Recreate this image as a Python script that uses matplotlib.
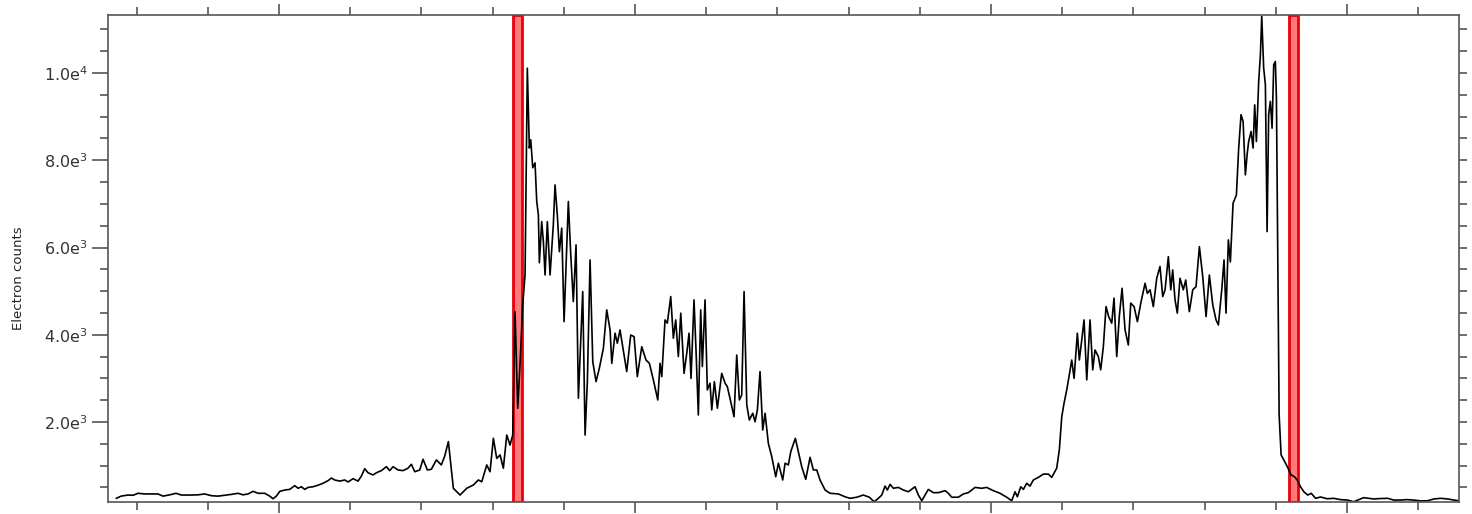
import numpy as np
import matplotlib
matplotlib.use('Agg')
import matplotlib.pyplot as plt
from matplotlib.ticker import MultipleLocator, FuncFormatter


#
# line profile: position along the scan and electron counts
x_pos = [
    27.17, 27.83, 28.81, 29.51, 30.21, 31.15, 32.04, 33.02, 33.72, 34.67,
    35.55, 36.30, 37.70, 38.64, 39.58, 40.51, 41.45, 42.39, 43.32, 44.26,
    44.96, 45.66, 46.37, 47.07, 48.01, 48.71, 49.17, 49.64, 50.12, 50.82,
    51.52, 52.22, 52.69, 53.15, 53.63, 54.09, 54.79, 55.49, 56.20, 56.90,
    57.36, 57.84, 58.54, 59.25, 59.71, 60.41, 61.11, 61.58, 62.05, 62.52,
    63.22, 63.68, 64.39, 65.09, 65.56, 66.03, 66.73, 67.43, 68.13, 68.60,
    69.08, 69.78, 70.24, 70.85, 71.41, 72.11, 72.81, 73.29, 73.80,
    74.50, 75.44, 76.38, 77.31, 78.01, 78.49, 79.19, 79.65, 80.12, 80.59,
    81.06, 81.52, 82.00, 82.46, 82.84, 83.16, 83.54, 83.86, 84.24, 84.57,
    84.89, 85.17, 85.37, 85.65, 85.97, 86.21, 86.44, 86.58, 86.91, 87.14,
    87.38, 87.70, 88.08, 88.54, 88.78, 89.10, 89.39, 89.72, 90.05, 90.65,
    90.99, 91.35, 91.73, 92.06, 92.67, 93.00, 93.32, 93.70, 94.08, 94.54,
    95.00, 95.57, 96.04,
    96.51, 96.75, 97.21, 97.53, 97.91, 98.29, 98.85, 99.41, 99.88, 100.34,
    100.96, 101.56, 102.03, 102.59, 103.21, 103.53, 103.77, 104.23, 104.55, 105.03,
    105.40, 105.73, 106.10, 106.44, 106.90, 107.28, 107.60, 107.88, 108.30, 108.58,
    108.91, 109.24, 109.47, 109.85, 110.17, 110.55, 110.79, 111.16, 111.58, 112.19,
    112.66, 112.98, 113.46, 113.92, 114.30, 114.67, 115.00, 115.33, 115.71, 116.07,
    116.55, 116.87, 117.20, 117.57, 117.95, 118.28, 118.74, 119.22, 119.78, 120.15,
    120.76, 121.09, 121.55, 121.89, 122.53, 122.95, 123.43, 123.99, 124.60, 125.06,
    125.54, 126.00, 126.71, 127.41, 128.57, 129.51, 130.21, 131.16, 132.08, 132.93,
    133.59, 134.19, 134.67, 135.13, 135.46, 135.83, 136.30, 137.00, 137.70, 138.40,
    139.34, 139.81, 140.29, 140.75, 141.21, 141.91, 142.62, 143.56, 144.02, 144.50,
    145.43, 146.13, 146.83, 147.77, 148.71, 149.41, 150.34, 151.28, 152.22, 152.92,
    153.39, 153.71, 154.19, 154.56, 155.03, 155.49, 155.96, 156.66, 157.36, 158.07,
    158.54,
    159.24, 159.61, 159.95, 160.27, 160.65, 160.97, 161.35, 161.68, 162.14, 162.42,
    162.76, 163.08, 163.46, 163.92, 164.30, 164.62, 165.09, 165.42, 165.79, 166.17,
    166.54, 166.97, 167.29, 167.67, 168.03, 168.42, 168.84, 169.30, 169.64, 170.11,
    170.57, 171.05, 171.65, 171.97, 172.35, 172.81, 173.29, 173.75, 174.13, 174.46,
    174.92, 175.26, 175.53, 175.86, 176.18, 176.56, 177.02, 177.36, 177.87, 178.35,
    178.81, 179.28, 179.75, 180.22, 180.68, 181.16, 181.62, 181.95, 182.42, 182.74,
    183.02,
    183.35, 183.63, 184.01, 184.48, 184.80, 185.13, 185.42, 185.74, 185.98, 186.20,
    186.54, 186.82, 187.05, 187.29, 187.61, 187.85, 188.04, 188.31, 188.55, 188.79,
    189.01, 189.25, 189.49, 189.72, 189.95, 190.10, 190.28, 190.48, 190.76, 191.13,
    191.51, 191.84, 192.17, 192.64, 193.02, 193.48, 193.95, 194.51, 194.99, 195.60,
    196.30, 197.24, 198.13, 199.11, 200.10, 200.94, 202.35, 203.75, 204.74, 205.73,
    206.57, 207.55, 208.40, 209.39, 210.37, 211.35, 212.20, 213.18, 214.17, 215.01,
    215.71,
]

counts = [
    250, 300, 325, 320, 365, 350, 350, 350, 300, 330,
    365, 325, 325, 330, 350, 310, 300, 320, 340, 365,
    330, 350, 410, 365, 365, 300, 240, 300, 410, 440,
    455, 540, 480, 515, 455, 500, 515, 550, 595, 655,
    715, 670, 645, 670, 625, 700, 645, 760, 930, 835,
    785, 835, 885, 975, 885, 975, 900, 885, 940, 1030,
    860, 900, 1145, 900, 915, 1130, 1015, 1220, 1550,
    480, 325, 480, 555, 670, 630, 1015, 860, 1625, 1165,
    1245, 940, 1700, 1470, 1700, 4530, 2315, 3310, 4685, 5370,
    10110, 8280, 8470, 7830, 7940, 7055, 6750, 5650, 6595, 6135,
    5370, 6595, 5370, 6520, 7435, 6750, 5905, 6445, 4300, 7055,
    5830, 4760, 6060, 2545, 4990, 1700, 2925, 5715, 3385, 2925,
    3230, 3690, 4570,
    4110, 3345, 4035, 3805, 4110, 3725, 3155, 3995, 3955, 3040,
    3725, 3420, 3345, 2965, 2505, 3345, 3040, 4340, 4265, 4875,
    3920, 4340, 3500, 4495, 3115, 3575, 4035, 3000, 4800, 3650,
    2160, 4570, 3270, 4800, 2735, 2890, 2275, 2925, 2315, 3115,
    2890, 2810, 2465, 2120, 3535, 2505, 2620, 4990, 2390, 2045,
    2200, 2005, 2275, 3155, 1815, 2200, 1510, 1205, 745, 1055,
    670, 1055, 1015, 1320, 1625, 1320, 975, 685, 1190, 900,
    900, 670, 440, 365, 350, 285, 250, 275, 325, 275,
    170, 250, 325, 530, 440, 570, 480, 500, 440, 400,
    515, 325, 195, 325, 455, 380, 380, 425, 365, 275,
    275, 350, 380, 500, 480, 500, 425, 365, 275, 195,
    400, 285, 515, 455, 595, 530, 670, 730, 805, 805,
    730,
    940, 1360, 2120, 2430, 2735, 3040, 3420, 3000, 4035, 3420,
    3880, 4340, 2965, 4340, 3195, 3650, 3500, 3195, 3725, 4645,
    4415, 4265, 4840, 3500, 4415, 5065, 4110, 3765, 4725, 4645,
    4300, 4725, 5180, 4950, 5030, 4645, 5295, 5565, 4875, 5030,
    5790, 5030, 5485, 4800, 4495, 5295, 5030, 5255, 4530, 5030,
    5105, 6020, 5335, 4415, 5370, 4685, 4340, 4225, 5030, 5715,
    4495,
    6175, 5670, 7015, 7205, 8280, 9045, 8890, 7665, 8125, 8430,
    8660, 8280, 9270, 8430, 9805, 10420, 11300, 10115, 9730, 6365,
    9045, 9350, 8735, 10190, 10265, 9425, 5985, 2160, 1245, 1130,
    1015, 900, 785, 745, 670, 515, 400, 325, 365, 250,
    280, 240, 250, 220, 210, 170, 265, 235, 245, 250,
    210, 210, 220, 210, 190, 195, 235, 250, 235, 210,
    195,
]

# marked interface regions (start, end)
band_start = [82.84, 191.80]
band_end = [84.16, 193.20]


def sci_label(v, pos):
    if v <= 0:
        return ''
    exp = int(np.floor(np.log10(v)))
    return '%.1fe$^{%d}$' % (v / 10**exp, exp)


fig = plt.figure(figsize=(14.72, 5.14), dpi=100)
ax = fig.add_axes([0.0734, 0.0233, 0.9178, 0.9475])

for lo, hi in zip(band_start, band_end):
    ax.axvspan(lo, hi, facecolor='#ff7a7a', edgecolor='#e8000b', lw=2, zorder=1)

ax.plot(x_pos, counts, color='black', lw=1.2, zorder=2)

ax.set_xlim(26.0, 215.75)
ax.set_ylim(165, 11330)

ax.xaxis.set_major_locator(MultipleLocator(50))
ax.xaxis.set_minor_locator(MultipleLocator(10))
ax.yaxis.set_major_locator(MultipleLocator(2000))
ax.yaxis.set_minor_locator(MultipleLocator(500))
ax.yaxis.set_major_formatter(FuncFormatter(sci_label))

edge = '#555555'
ax.tick_params(axis='x', which='both', direction='out', top=True, bottom=True,
               labelbottom=False, color=edge, width=1.2)
ax.tick_params(axis='x', which='major', length=8)
ax.tick_params(axis='x', which='minor', length=5.5)
ax.tick_params(axis='y', which='both', direction='out', left=True, right=False,
               color=edge, width=1.2, labelsize=11.5, labelcolor='#333333', pad=3)
ax.tick_params(axis='y', which='major', length=11.5)
ax.tick_params(axis='y', which='minor', length=5.5)
for sp in ax.spines.values():
    sp.set_color(edge)
    sp.set_linewidth(1.2)

# ticks on the right edge, no labels
rax = ax.twinx()
rax.set_ylim(ax.get_ylim())
rax.yaxis.set_major_locator(MultipleLocator(500))
rax.tick_params(axis='y', direction='out', length=5.5, width=1.2, color=edge,
                labelright=False)
for sp in rax.spines.values():
    sp.set_visible(False)

ax.set_ylabel('Electron counts', fontsize=9.5, color='#222222')
ax.yaxis.set_label_coords(-0.0615, 0.46)

fig.savefig('out.png', dpi=100)
plt.close()
